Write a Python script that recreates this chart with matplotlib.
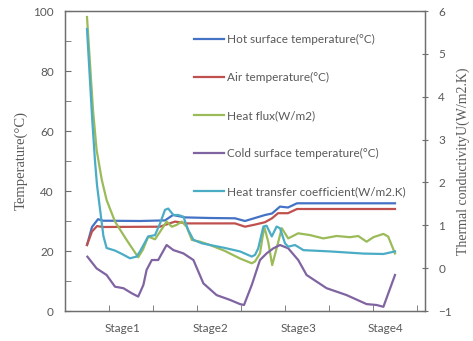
import matplotlib.pyplot as plt

# x positions in time units (axis runs 0..90)
x_hot = [5.5, 6.75, 8.25, 9.5, 18.75, 25, 27, 30, 36.25, 42.5, 45, 47.5, 50, 51.75, 53.75, 55.75, 58, 82.5]
hot = [22, 28, 30.6, 30.1, 30, 30.2, 32, 31.2, 31, 30.9, 30, 31, 32, 32.5, 34.8, 34.5, 35.9, 35.9]

x_air = [5.5, 6.75, 8, 9.5, 23.75, 25.25, 27.5, 30.5, 42.5, 45, 47.5, 50, 51.75, 53.25, 55.75, 58, 82.5]
air = [22, 26.5, 28.3, 28, 28.1, 28.8, 29.8, 29.2, 29.2, 28.1, 28.8, 29.6, 30.9, 32.6, 32.6, 34, 34]

x_flux = [5.5, 7, 7.9, 9.2, 10.4, 12.5, 15.4, 18.3, 19.5, 20.8, 22.5, 24.6, 25.4, 26.7, 27.9, 29.2,
          30.4, 31.7, 33.75, 36.25, 40, 43.75, 46.7, 47.5, 48.75, 49.8, 50.8, 51.8, 52.9, 54.2, 55.8,
          58.3, 61.25, 64.6, 67.9, 71.25, 73.3, 75.4, 77.1, 79.6, 80.8, 82.5]
flux = [98, 67, 53.7, 43.7, 37, 29.8, 23.7, 17.9, 20.5, 24.8, 23.9, 28.1, 29.8, 28.1, 28.7, 29.8,
        28.1, 23.7, 23.1, 22, 20, 17.5, 15.9, 16.5, 19.2, 28.1, 23.1, 15.3, 20.9, 27.6, 24.2,
        25.9, 25.3, 24.2, 25, 24.6, 25, 23.1, 24.6, 25.7, 24.8, 19.2]

x_cold = [5.6, 7.9, 10.4, 12.5, 14.6, 16.7, 18.3, 19.6, 20.4, 21.7, 23.3, 25.4, 27.1, 29.6, 32.1,
          34.6, 37.9, 41.25, 43.75, 44.75, 46.7, 48.75, 50.4, 52.1, 53.75, 55.8, 58.3, 60.4, 65.4,
          70.4, 75.4, 77.9, 79.6, 82.5]
cold = [18.1, 14.2, 12, 8.1, 7.6, 5.9, 4.8, 8.7, 13.7, 17, 17, 22, 20.3, 19.2, 17,
        9.2, 5.3, 3.7, 2.3, 2, 8.7, 17, 19.2, 20.9, 22, 20.9, 17, 12, 7.6,
        5.3, 2.3, 2, 1.4, 12]

# heat transfer coefficient, right axis units
x_htc = [5.5, 6.8, 7.5, 8, 8.75, 9.6, 10.4, 12.5, 14.25, 16.25, 17.9, 18.75, 20.8, 22.5, 23.75, 25,
         25.8, 27.1, 28.3, 29.6, 30.8, 32.1, 34.2, 36.25, 40, 43.75, 46.7, 47.5, 48.3, 49.6, 50.4,
         51.7, 52.9, 53.75, 55, 55.8, 57.5, 59.6, 66.25, 74.6, 79.6, 82.5]
htc = [5.58, 3.48, 2.5, 1.94, 1.38, 0.75, 0.47, 0.41, 0.33, 0.23, 0.27, 0.39, 0.74, 0.77, 1.04, 1.36,
       1.39, 1.24, 1.24, 1.2, 0.89, 0.66, 0.58, 0.54, 0.47, 0.39, 0.27, 0.31, 0.46, 0.97, 0.99,
       0.74, 0.97, 0.93, 0.58, 0.5, 0.54, 0.42, 0.39, 0.34, 0.33, 0.39]

stage_pos = [14.3, 36.3, 58.3, 80.2]
stage_labels = ['Stage1', 'Stage2', 'Stage3', 'Stage4']

gray = '#595959'
spine = '#6e6e6e'

fig = plt.figure(figsize=(4.73, 3.41), dpi=100)
ax = fig.add_axes([65 / 473, 30 / 341, 360 / 473, 300 / 341])
ax2 = ax.twinx()

l1, = ax.plot(x_hot, hot, color='#4472C4', lw=1.6)
l2, = ax.plot(x_air, air, color='#C0504D', lw=1.6)
l3, = ax.plot(x_flux, flux, color='#9BBB59', lw=1.6)
l4, = ax.plot(x_cold, cold, color='#8064A2', lw=1.6)
l5, = ax2.plot(x_htc, htc, color='#4BACC6', lw=1.6)

ax.set_xlim(0, 90)
ax.set_ylim(0, 100)
ax2.set_ylim(-1, 6)

ax.set_yticks(range(0, 101, 20))
ax.set_yticks(range(0, 101, 10), minor=True)
ax.set_xticks(stage_pos)
ax.set_xticklabels(stage_labels)
ax.set_xticks(range(0, 90, 11), minor=True)
ax2.set_yticks(range(-1, 7))

ax.tick_params(axis='x', which='major', length=0, pad=9, labelsize=8.5, labelcolor=gray)
ax.tick_params(axis='x', which='minor', direction='in', length=4, color=spine)
ax.tick_params(axis='y', which='both', direction='in', length=4, color=spine, labelsize=8.5, labelcolor=gray, pad=8)
ax2.tick_params(axis='y', direction='inout', length=5, color=spine, labelsize=8.5, labelcolor=gray, pad=7)
for lab in ax.get_xticklabels() + ax.get_yticklabels() + ax2.get_yticklabels():
    lab.set_family('Lato')

for a in (ax, ax2):
    for s in a.spines.values():
        s.set_color(spine)
        s.set_linewidth(0.9)

ax.set_ylabel('Temperature(°C)', family='Liberation Serif', fontsize=10.5, color=gray, labelpad=4)
ax2.set_ylabel('Thermal conductivityU(W/m2.K)', family='Liberation Serif', fontsize=10, color=gray, labelpad=3)

handles = [l1, l2, l3, l4, l5]
labels = ['Hot surface temperature(°C)', 'Air temperature(°C)', 'Heat flux(W/m2)',
          'Cold surface temperature(°C)', 'Heat transfer coefficient(W/m2.K)']
leg = ax2.legend(handles, labels, loc='upper left', bbox_to_anchor=(183 / 473, 1 - 23 / 341),
                 bbox_transform=fig.transFigure, frameon=False, handlelength=2.6,
                 handletextpad=0.2, labelspacing=2.3, prop={'family': 'Lato', 'size': 8.5})
for t in leg.get_texts():
    t.set_color(gray)

fig.savefig('out.png', dpi=100)
